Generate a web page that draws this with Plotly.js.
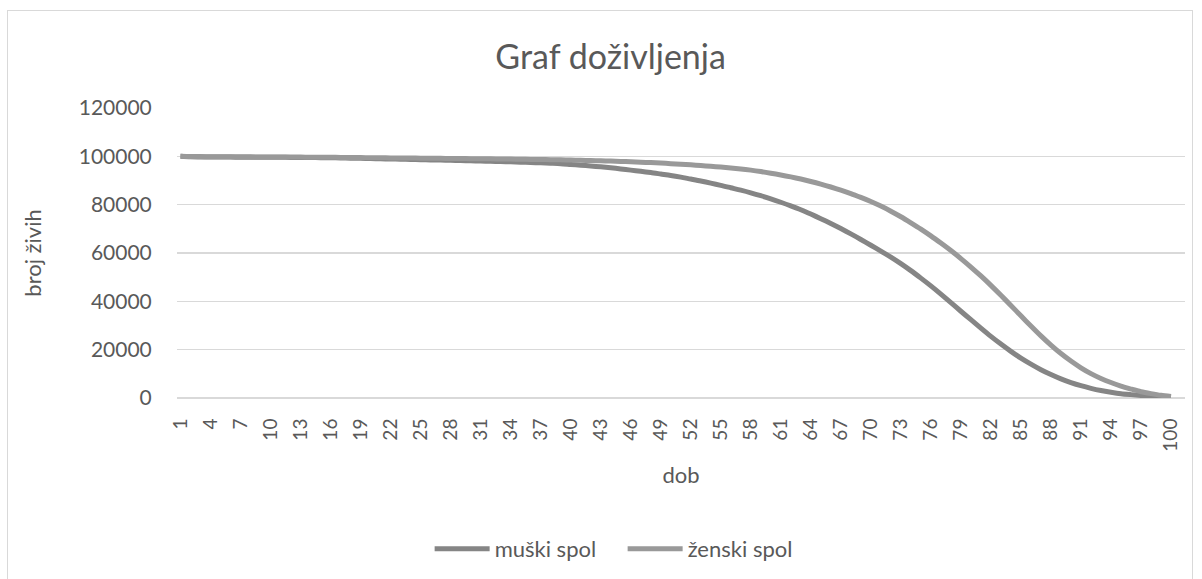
<!DOCTYPE html>
<html>
<head>
<meta charset="utf-8">
<script src="https://cdn.plot.ly/plotly-3.0.1.min.js"></script>
<style>
  html, body { margin: 0; padding: 0; background: #ffffff; }
  #wrap { position: relative; width: 1202px; height: 579px; overflow: hidden; }
  #chart { width: 1202px; height: 579px; }
  #frame { position: absolute; left: 7px; top: 10px; width: 1186px; height: 600px;
           border: 1px solid #d9d9d9; pointer-events: none; box-sizing: border-box; }
</style>
</head>
<body>
<div id="wrap">
  <div id="chart"></div>
  <div id="frame"></div>
</div>
<script>
// Ages 1..100 (category labels)
const ages = [];
for (let a = 1; a <= 100; a++) ages.push(String(a));

// Tick labels shown on the x axis (every third age)
const xTickLabels = ["1","4","7","10","13","16","19","22","25","28","31","34","37","40","43","46","49","52","55","58","61","64","67","70","73","76","79","82","85","88","91","94","97","100"];

// y-axis ticks
const yTicks = [0, 20000, 40000, 60000, 80000, 100000, 120000];

// muški spol (men) – number alive by age
const muski = [
  100000, 99800, 99760, 99730, 99700, 99680, 99660, 99640, 99620, 99600,
  99580, 99560, 99530, 99500, 99460, 99400, 99330, 99250, 99160, 99070,
  98980, 98890, 98800, 98710, 98620, 98530, 98440, 98350, 98260, 98160,
  98060, 97950, 97840, 97720, 97590, 97450, 97300, 97130, 96950, 96650,
  96350, 96000, 95650, 95250, 94800, 94300, 93800, 93300, 92700, 92100,
  91400, 90600, 89800, 88900, 88000, 87000, 86000, 84900, 83700, 82400,
  81000, 79500, 77900, 76100, 74200, 72200, 70100, 67900, 65600, 63200,
  60800, 58300, 55600, 52700, 49600, 46400, 43000, 39500, 35900, 32400,
  28900, 25500, 22300, 19300, 16500, 14000, 11700, 9700, 7900, 6400,
  5100, 4000, 3100, 2400, 1800, 1400, 1050, 780, 580, 400
];

// ženski spol (women) – number alive by age
const zenski = [
  100000, 99900, 99880, 99860, 99840, 99820, 99800, 99780, 99760, 99740,
  99720, 99700, 99680, 99650, 99620, 99590, 99560, 99520, 99480, 99440,
  99400, 99360, 99320, 99280, 99240, 99200, 99160, 99120, 99080, 99040,
  99000, 98950, 98900, 98850, 98800, 98740, 98680, 98610, 98540, 98460,
  98370, 98270, 98160, 98040, 97900, 97750, 97580, 97400, 97200, 96980,
  96740, 96480, 96200, 95890, 95560, 95200, 94800, 94300, 93700, 93000,
  92300, 91500, 90600, 89600, 88500, 87300, 86000, 84600, 83000, 81300,
  79400, 77300, 75000, 72500, 69900, 67100, 64100, 61000, 57700, 54200,
  50500, 46600, 42500, 38300, 34000, 29800, 25700, 21900, 18400, 15300,
  12500, 10100, 8100, 6400, 4900, 3700, 2600, 1800, 1100, 600
];

const FONT = "Lato, 'Open Sans', sans-serif";
const TXT = "#595959";
const GRID = "#d9d9d9";

const traces = [
  {
    x: ages, y: muski, name: "muški spol", type: "scatter", mode: "lines",
    line: { color: "#858585", width: 5, shape: "spline", smoothing: 0.8 }
  },
  {
    x: ages, y: zenski, name: "ženski spol", type: "scatter", mode: "lines",
    line: { color: "#999999", width: 5, shape: "spline", smoothing: 0.8 }
  }
];

const layout = {
  width: 1202, height: 579,
  paper_bgcolor: "#ffffff", plot_bgcolor: "#ffffff",
  margin: { l: 177, r: 17, t: 108, b: 180.5 },
  font: { family: FONT, color: TXT, size: 20 },
  title: {
    text: "Graf doživljenja",
    font: { family: FONT, size: 34, color: TXT },
    x: 0.508, xref: "container", xanchor: "center",
    y: 1 - 57 / 579, yref: "container", yanchor: "middle"
  },
  showlegend: true,
  legend: {
    orientation: "h",
    x: 0.518, xref: "container", xanchor: "center",
    y: 30 / 579, yref: "container", yanchor: "middle",
    font: { family: FONT, size: 22, color: TXT },
    itemwidth: 55, entrywidth: 123, tracegroupgap: 0
  },
  xaxis: {
    type: "category",
    range: [-0.35, 100.4],
    tickmode: "array",
    tickvals: xTickLabels,
    ticktext: xTickLabels,
    tickangle: -90,
    tickfont: { family: FONT, size: 19, color: TXT },
    ticks: "outside", ticklen: 12, tickcolor: "rgba(0,0,0,0)",
    showgrid: false, zeroline: false,
    showline: false,
    title: { text: "dob", font: { family: FONT, size: 22, color: TXT }, standoff: 16 },
    fixedrange: true
  },
  yaxis: {
    range: [0, 120000],
    tickmode: "array",
    tickvals: yTicks,
    tickformat: "d",
    tickfont: { family: FONT, size: 21, color: TXT },
    ticks: "outside", ticklen: 20, tickcolor: "rgba(0,0,0,0)",
    showgrid: true, gridcolor: GRID, gridwidth: 1.3,
    zeroline: true, zerolinecolor: GRID, zerolinewidth: 1.3,
    showline: false,
    title: { text: "broj živih", font: { family: FONT, size: 22, color: TXT }, standoff: 31 },
    fixedrange: true
  }
};

Plotly.newPlot("chart", traces, layout, { displayModeBar: false, staticPlot: true });
</script>
</body>
</html>
